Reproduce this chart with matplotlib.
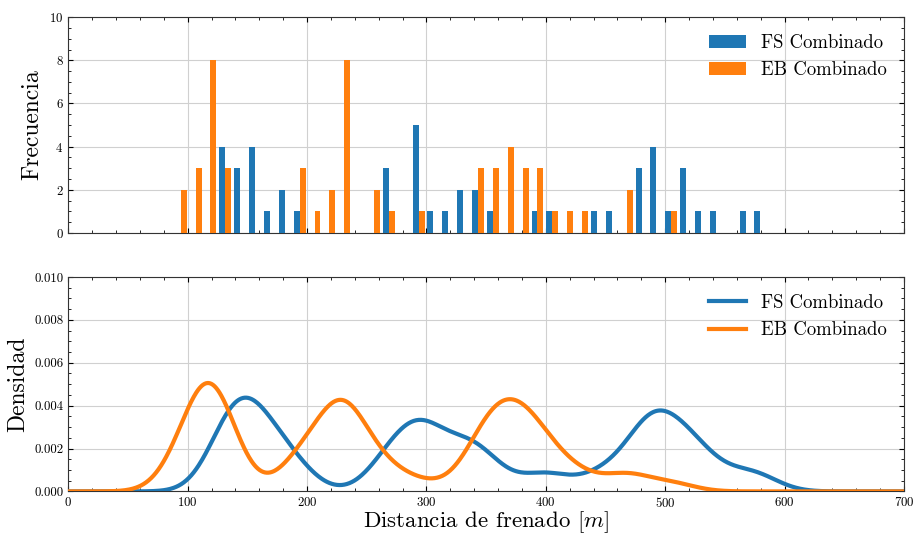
import numpy as np
import matplotlib
matplotlib.use("Agg")
import matplotlib.pyplot as plt
from matplotlib.ticker import AutoMinorLocator

plt.rcParams['font.family'] = ['cmr10', 'DejaVu Serif']
plt.rcParams['mathtext.fontset'] = 'cm'
plt.rcParams['axes.formatter.use_mathtext'] = True
plt.rcParams['axes.unicode_minus'] = False

# 40 bins between the smallest and largest distance
edges = np.linspace(88, 586, 41)
centers = (edges[:-1] + edges[1:]) / 2

# counts per bin
fs_counts = [0, 0, 0, 4, 3, 4, 1, 2, 1, 0,
             0, 0, 0, 0, 3, 0, 5, 1, 1, 2,
             2, 1, 0, 0, 1, 1, 0, 0, 1, 1,
             0, 3, 4, 1, 3, 1, 1, 0, 1, 1]
eb_counts = [2, 3, 8, 3, 0, 0, 0, 0, 3, 1,
             2, 8, 0, 2, 1, 0, 1, 0, 0, 0,
             3, 3, 4, 3, 3, 1, 1, 1, 0, 0,
             2, 0, 0, 1, 0, 0, 0, 0, 0, 0]
labels = ['FS Combinado', 'EB Combinado']
colors = ['#1f77b4', '#ff7f0e']

fs = np.repeat(centers, fs_counts)
eb = np.repeat(centers, eb_counts)

def kde(data, grid, bw=19.5):
    z = (grid[:, None] - data[None, :]) / bw
    return np.exp(-0.5 * z**2).sum(axis=1) / (len(data) * bw * np.sqrt(2 * np.pi))

fig = plt.figure(figsize=(9.14, 5.35), dpi=100)
ax1 = fig.add_axes([0.0747, 0.5645, 0.9143, 0.4035])
ax2 = fig.add_axes([0.0747, 0.0815, 0.9143, 0.4007], sharex=ax1)

ax1.hist([centers, centers], bins=edges, weights=[fs_counts, eb_counts],
         color=colors, label=labels, zorder=3)
ax1.set_ylim(0, 10)
ax1.set_ylabel('Frecuencia', fontsize=17)
ax1.legend(loc='upper right', frameon=False, fontsize=13.5)
plt.setp(ax1.get_xticklabels(), visible=False)

grid = np.linspace(0, 700, 1000)
ax2.plot(grid, kde(fs, grid), color=colors[0], lw=3, label=labels[0], zorder=3)
ax2.plot(grid, kde(eb, grid), color=colors[1], lw=3, label=labels[1], zorder=3)
ax2.set_ylim(0, 0.010)
ax2.set_xlim(0, 700)
ax2.set_yticks(np.arange(0, 0.0101, 0.002))
ax2.set_yticklabels(['%.3f' % v for v in np.arange(0, 0.0101, 0.002)])
ax2.set_ylabel('Densidad', fontsize=17)
ax2.set_xlabel(r'Distancia de frenado $[m]$', fontsize=16.5, labelpad=-0.5)
ax2.legend(loc='upper right', frameon=False, fontsize=13.5)

for ax in (ax1, ax2):
    ax.grid(True, color='#d0d0d0', lw=0.8, zorder=0)
    ax.xaxis.set_minor_locator(AutoMinorLocator(5))
    ax.yaxis.set_minor_locator(AutoMinorLocator(4))
    ax.tick_params(which='both', direction='in', top=True, right=True, labelsize=9.3)
    ax.tick_params(which='major', length=3.5)
    ax.tick_params(which='minor', length=2)
    for s in ax.spines.values():
        s.set_color('#333333')

fig.savefig('out.png', dpi=100)
